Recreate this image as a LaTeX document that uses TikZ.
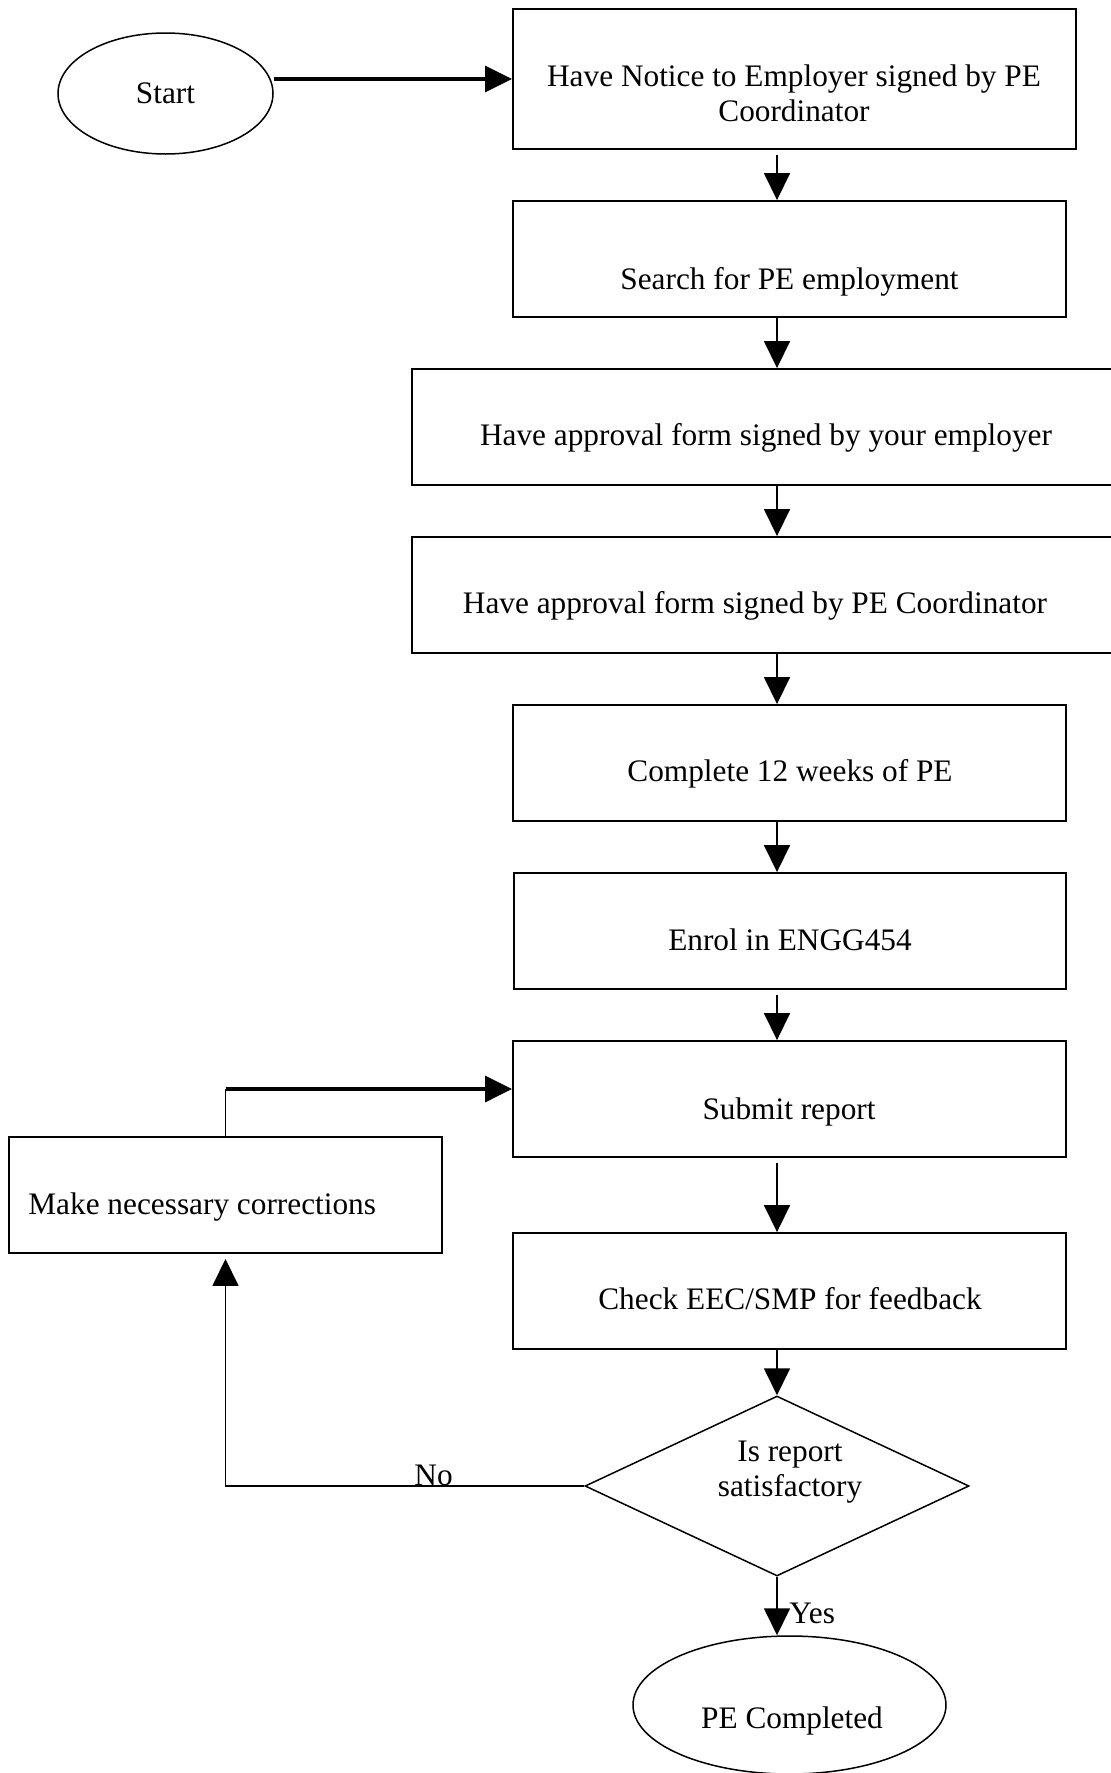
\documentclass[tikz,border=0pt]{standalone}
\usepackage{fontspec}
\setmainfont{Liberation Serif}
\usetikzlibrary{arrows.meta,shapes.geometric,calc}
\begin{document}
\begin{tikzpicture}[x=0.5pt,y=-0.5pt,
  font=\fontsize{15.65pt}{17.5pt}\selectfont,
  box/.style={draw,rectangle,line width=0.95pt,inner sep=0pt,minimum height=58pt},
  txt/.style={anchor=base,inner sep=0pt},
  oval/.style={draw,ellipse,line width=0.75pt,inner sep=0pt},
  tip/.style={-{Triangle[length=13.5pt,width=13pt]}},
  arr/.style={line width=0.85pt,tip},
  thickarr/.style={line width=1.7pt,tip},
]
\useasboundingbox (0,0) rectangle (1110,1773);

% nodes
\node[oval,minimum width=107.5pt,minimum height=60.5pt] (start) at (165.5,93.5) {Start};

\node[box,minimum width=281.5pt,minimum height=70pt] (b1) at (794.5,79) {};
\node[txt] (t1) at (794,86) {\begin{tabular}[t]{@{}c@{}}Have Notice to Employer signed by PE\\Coordinator\end{tabular}};

\node[box,minimum width=276.5pt] (b2) at (789.5,259) {};
\node[txt] (t2) at (789.5,289) {Search for PE employment};

\node[box,minimum width=354pt] (b3) at (766,427) {};
\node[txt] (t3) at (766,445) {Have approval form signed by your employer};

\node[box,minimum width=354pt] (b4) at (766,595) {};
\node[txt] (t4) at (755,613) {Have approval form signed by PE Coordinator};

\node[box,minimum width=276.5pt] (b5) at (789.5,763) {};
\node[txt] (t5) at (790,781) {Complete 12 weeks of PE};

\node[box,minimum width=276pt] (b6) at (790,931) {};
\node[txt] (t6) at (790,950) {Enrol in ENGG454};

\node[box,minimum width=276.5pt] (b7) at (789.5,1099) {};
\node[txt] (t7) at (789,1119) {Submit report};

\node[box,minimum width=216.5pt] (corr) at (225.5,1195) {};
\node[txt,anchor=base west] (tc) at (28,1214) {Make necessary corrections};

\node[box,minimum width=276.5pt] (b8) at (789.5,1291) {};
\node[txt] (t8) at (790,1309) {Check EEC/SMP for feedback};

\node[draw,diamond,line width=0.75pt,minimum width=192pt,minimum height=90pt,inner sep=0pt] (dia) at (777,1486) {};
\node[txt] (dt) at (790,1461) {\begin{tabular}[t]{@{}c@{}}Is report\\satisfactory\end{tabular}};

\node[oval,minimum width=156.5pt,minimum height=69pt] (end) at (789.5,1705) {};
\node[txt] (te) at (792,1728) {PE Completed};

% connectors
\draw[thickarr] (start.east |- b1.west) -- (b1.west);
\draw[arr,shorten <=2.5pt] (b1.south -| dia.center) -- (b2.north -| dia.center);
\draw[arr] (b2.south -| dia.center) -- (b3.north -| dia.center);
\draw[arr] (b3.south -| dia.center) -- (b4.north -| dia.center);
\draw[arr] (b4.south -| dia.center) -- (b5.north -| dia.center);
\draw[arr] (b5.south -| dia.center) -- (b6.north -| dia.center);
\draw[arr,shorten <=2.5pt] (b6.south -| dia.center) -- (b7.north -| dia.center);
\draw[arr,shorten <=2.5pt] (b7.south -| dia.center) -- (b8.north -| dia.center);
\draw[arr] (b8.south -| dia.center) -- (dia.north);
\draw[arr] (dia.south) -- (dia.south |- end.north);

\coordinate (lc) at ($(b7.west)+(0,-10)$);
\draw[line width=0.85pt] (corr.north) -- (corr.north |- lc);
\draw[thickarr] (corr.north |- lc) -- (lc);

\draw[arr,shorten >=2.5pt] (dia.west) -- (dia.west -| corr.south) -- (corr.south);
\node[txt,anchor=base west] (no) at (414,1485) {No};
\node[txt,anchor=base west] (yes) at (789,1623) {Yes};
\end{tikzpicture}
\end{document}
